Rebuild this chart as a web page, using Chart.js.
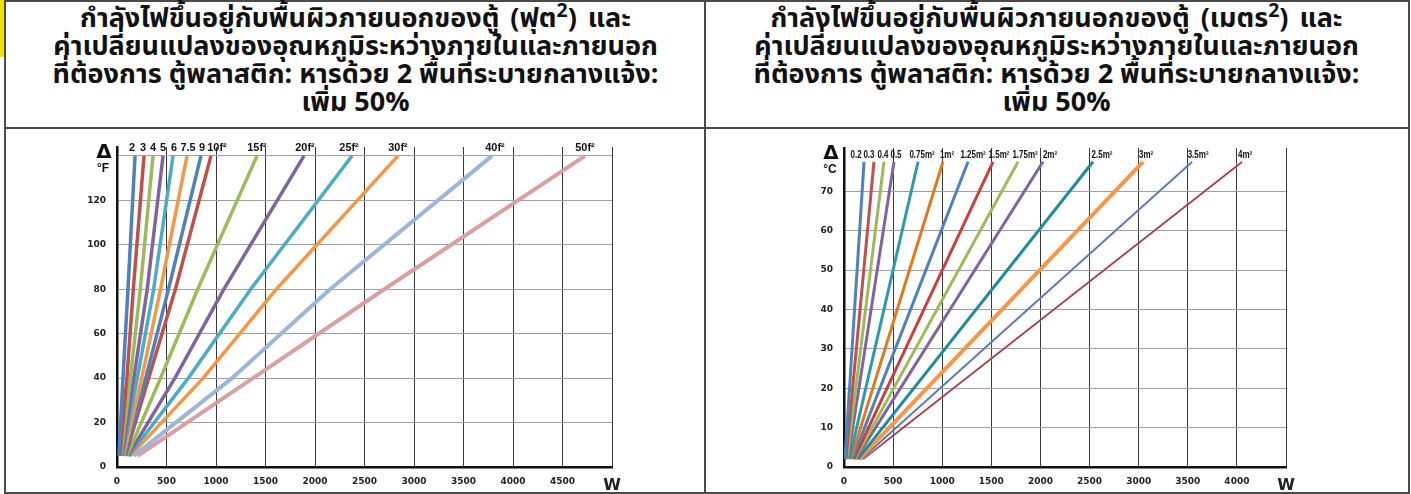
<!DOCTYPE html>
<html>
<head>
<meta charset="utf-8">
<script src="https://cdn.jsdelivr.net/npm/chart.js@4"></script>
<style>
  body { margin: 0; background: #fff; width: 1411px; height: 494px; overflow: hidden; position: relative; }
  .strip { position: absolute; left: 0; top: 0; width: 4px; height: 57px; background: #f2e200; }
  .frame { position: absolute; left: 4px; top: 0; width: 1402px; height: 490px; border: 2px solid #4a4a4a; }
  .vline { position: absolute; left: 704px; top: 0; width: 2px; height: 494px; background: #4a4a4a; }
  .hline { position: absolute; left: 4px; top: 127px; width: 1406px; height: 2px; background: #4a4a4a; }
  .head { position: absolute; top: 5px; width: 699px; text-align: center;
          font-family: "Noto Sans Thai", "Noto Sans Thai UI", "Noto Sans", "DejaVu Sans", sans-serif;
          font-weight: bold; font-size: 27px; line-height: 28px; color: #111; }
  .head sup { font-size: 0.72em; line-height: 0; }
  .head .wide { word-spacing: 4px; }
  canvas { position: absolute; }
</style>
</head>
<body>
<div class="strip"></div>
<div class="frame"></div>
<div class="vline"></div>
<div class="hline"></div>
<div class="head" style="left:6px"><span class="wide">กำลังไฟขึ้นอยู่กับพื้นผิวภายนอกของตู้ (ฟุต<sup>2</sup>) และ</span><br>ค่าเปลี่ยนแปลงของอุณหภูมิระหว่างภายในและภายนอก<br>ที่ต้องการ ตู้พลาสติก: หารด้วย 2 พื้นที่ระบายกลางแจ้ง:<br>เพิ่ม 50%</div>
<div class="head" style="left:707px"><span class="wide">กำลังไฟขึ้นอยู่กับพื้นผิวภายนอกของตู้ (เมตร<sup>2</sup>) และ</span><br>ค่าเปลี่ยนแปลงของอุณหภูมิระหว่างภายในและภายนอก<br>ที่ต้องการ ตู้พลาสติก: หารด้วย 2 พื้นที่ระบายกลางแจ้ง:<br>เพิ่ม 50%</div>
<canvas id="chartF" width="699" height="361" style="left:5px;top:130px"></canvas>
<canvas id="chartC" width="702" height="361" style="left:706px;top:130px"></canvas>
<script>
// ---- °F chart (area in ft²) ----
var fLabels = ['2', '3', '4', '5', '6', '7.5', '9', '10f²', '15f²', '20f²', '25f²', '30f²', '40f²', '50f²'];
var fTemps = [5, 40, 80, 140];
var fWatts = [
  [20, 60, 111, 182],
  [30, 100, 165, 273],
  [40, 135, 235, 364],
  [50, 170, 305, 465],
  [55, 205, 370, 566],
  [65, 250, 440, 707],
  [75, 290, 520, 848],
  [85, 320, 590, 949],
  [100, 440, 815, 1414],
  [110, 585, 1080, 1889],
  [120, 720, 1350, 2374],
  [135, 870, 1610, 2838],
  [170, 1162, 2152, 3788],
  [210, 1374, 2700, 4727]
];
var fYTicks = [0, 20, 40, 60, 80, 100, 120, 140];
var fXTicks = [0, 500, 1000, 1500, 2000, 2500, 3000, 3500, 4000, 4500, 5000];

// ---- °C chart (area in m²) ----
var cLabels = ['0.2', '0.3', '0.4', '0.5', '0.75m²', '1m²', '1.25m²', '1.5m²', '1.75m²', '2m²', '2.5m²', '3m²', '3.5m²', '4m²'];
var cTemps = [2, 77.5];
var cWatts = [
  [10, 204],
  [20, 305],
  [30, 407],
  [40, 509],
  [55, 754],
  [70, 1008],
  [85, 1263],
  [100, 1517],
  [110, 1772],
  [120, 2026],
  [140, 2535],
  [155, 3045],
  [175, 3544],
  [195, 4053]
];
var cYTicks = [0, 10, 20, 30, 40, 50, 60, 70];
var cXTicks = [0, 500, 1000, 1500, 2000, 2500, 3000, 3500, 4000, 4500];

// styles
var fColors = ['#4F81BD', '#C0504D', '#9BBB59', '#8064A2', '#4BACC6', '#F79646', '#4F81BD',
               '#C0504D', '#9BBB59', '#8064A2', '#4BACC6', '#F79646', '#9DB5D8', '#D8A0A0'];
var fWidths = [3.5, 3.5, 3.5, 3.5, 3.5, 3.5, 3.5, 3.5, 3.5, 3.5, 3.5, 3.5, 4, 4];
var fShift = [-3, -1, 0, 0, 1, 1, 1, 6, 0, 1, -3, 0, 3, 0];
var cColors = ['#4F81BD', '#C0504D', '#9BBB59', '#8064A2', '#2E9AAA', '#E0781E', '#4F81BD',
               '#C8403C', '#9BBB59', '#8064A2', '#1E8C9C', '#F79646', '#566F9E', '#8E3A48'];
var cWidths = [3, 3, 3, 3, 3, 3, 3, 3, 3, 3, 3, 4, 1.6, 1.6];
var cShift = [-8, -5, -1, 2, 4, 4, 5, 6, 7, 7, 9, 3, 6, 3];
var cGlow = [null, null, null, null, null, null, null, null, null, null, null, null, '#b9c9e4', '#e2c0c4'];

var tickFont = { family: 'Tahoma, "DejaVu Sans", sans-serif', size: 9, weight: 'bold' };
var bigFont = { family: '"DejaVu Sans", sans-serif', size: 16, weight: 'bold' };

function buildSets(labels, temps, watts, colors, widths) {
  return labels.map(function(lab, i) {
    return {
      label: lab,
      data: watts[i].map(function(w, j) { return { x: w, y: temps[j] }; }),
      borderColor: colors[i],
      borderWidth: widths[i],
      pointRadius: 0,
      tension: 0,
      fill: false
    };
  });
}

// light halo round the thin lines
function glowPlugin(glow) {
  return {
    id: 'glow',
    beforeDatasetDraw: function(chart, args) {
      var c = glow[args.index];
      if (!c) return;
      chart.ctx.save();
      chart.ctx.shadowColor = c;
      chart.ctx.shadowBlur = 3;
    },
    afterDatasetDraw: function(chart, args) {
      if (glow[args.index]) chart.ctx.restore();
    }
  };
}

function endLabels(unit, lift, font, squeeze, shift) {
  return {
    id: 'endLabels',
    afterDatasetsDraw: function(chart) {
      var ctx = chart.ctx;
      var a = chart.chartArea;
      ctx.save();
      ctx.fillStyle = '#111';
      ctx.textAlign = 'center';
      ctx.textBaseline = 'middle';
      ctx.font = font;
      chart.data.datasets.forEach(function(ds, i) {
        var pts = chart.getDatasetMeta(i).data;
        var p = pts[pts.length - 1];
        ctx.save();
        ctx.translate(p.x + shift[i], p.y - lift);
        ctx.scale(squeeze, 1);
        ctx.fillText(ds.label, 0, 0);
        ctx.restore();
      });
      ctx.font = 'bold 20px "DejaVu Sans", sans-serif';
      ctx.fillText('Δ', a.left - 13, a.top + 6);
      ctx.font = 'bold 12px "Liberation Sans", Arial, sans-serif';
      ctx.fillText(unit, a.left - 14, a.top + 22);
      ctx.restore();
    }
  };
}

function makeChart(id, sets, xMax, yMax, xTicks, yTicks, yHide, yWidth, padRight, padTop, plugins) {
  return new Chart(document.getElementById(id), {
    type: 'line',
    data: { datasets: sets },
    options: {
      responsive: false,
      animation: false,
      devicePixelRatio: 1,
      layout: { padding: { left: 0, right: padRight, top: padTop, bottom: 0 } },
      plugins: { legend: { display: false }, tooltip: { enabled: false } },
      scales: {
        x: {
          type: 'linear',
          min: 0,
          max: xMax,
          afterBuildTicks: function(axis) { axis.ticks = xTicks.map(function(v) { return { value: v }; }); },
          afterFit: function(axis) { axis.height = 24; },
          grid: { color: '#3a3a3a', lineWidth: 1, drawTicks: false },
          border: { color: '#111', width: 2.5 },
          ticks: {
            padding: 9,
            maxRotation: 0,
            autoSkip: false,
            color: '#222',
            font: function(c) { return c.tick && c.tick.value === xMax ? bigFont : tickFont; },
            callback: function(v) { return v === xMax ? 'W' : v; }
          }
        },
        y: {
          min: 0,
          max: yMax,
          afterBuildTicks: function(axis) { axis.ticks = yTicks.map(function(v) { return { value: v }; }); },
          afterFit: function(axis) { axis.width = yWidth; },
          grid: { color: '#a0a0a0', lineWidth: 1, drawTicks: false },
          border: { color: '#111', width: 2.5 },
          ticks: {
            padding: 11,
            color: '#222',
            font: tickFont,
            callback: function(v) { return v === yHide ? '' : v; }
          }
        }
      }
    },
    plugins: plugins
  });
}

makeChart('chartF', buildSets(fLabels, fTemps, fWatts, fColors, fWidths), 5000, 144, fXTicks, fYTicks, 140,
  112, 92, 17, [endLabels('°F', 8, 'bold 11.5px "Liberation Sans", Arial, sans-serif', 0.95, fShift)]);
makeChart('chartC', buildSets(cLabels, cTemps, cWatts, cColors, cWidths), 4500, 81, cXTicks, cYTicks, null,
  138, 122, 18, [glowPlugin(cGlow), endLabels('°C', 7, 'bold 10px "Liberation Sans", Arial, sans-serif', 0.8, cShift)]);
</script>
</body>
</html>
